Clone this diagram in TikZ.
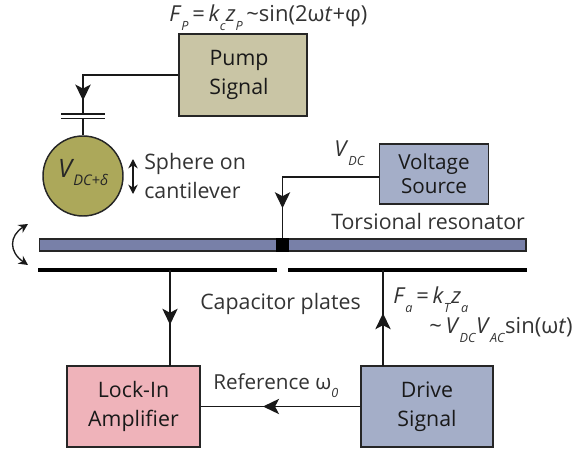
\documentclass[tikz,border=0pt]{standalone}
\usepackage{fontspec}
\setmainfont{Open Sans}
\usetikzlibrary{
    arrows.meta,
    decorations.markings,
    positioning
}
\definecolor{pumpfill}{HTML}{C9C5A5}
\definecolor{spherefill}{HTML}{ACA85A}
\definecolor{voltfill}{HTML}{A4AEC8}
\definecolor{barfill}{HTML}{7880A8}
\definecolor{lockfill}{HTML}{EFB3BA}
\definecolor{inkgray}{HTML}{333333}
\newcommand{\lowidx}[1]{\raisebox{-0.8ex}{\fontsize{9.5}{10}\selectfont\textit{#1}}}

\begin{document}
\begin{tikzpicture} [x=0.75pt,y=-0.75pt,
    block/.style={rectangle,draw=black!85,line width=1.1pt,inner sep=0pt,
                  font=\fontsize{16}{21.5}\selectfont,align=center,text=black!90},
    wire/.style={draw=black!90,line width=1pt},
    plate/.style={draw=black,line width=2.6pt},
    midtip/.style={postaction={decorate},decoration={markings,
                  mark=at position #1 with {\arrow{Stealth[length=12pt,width=11.5pt,inset=3pt]}}}},
    caption/.style={inner sep=0pt,font=\fontsize{16}{21.5}\selectfont,align=left,text=inkgray},
    formula/.style={inner sep=0pt,anchor=base west,font=\fontsize{16.5}{18}\selectfont,text=inkgray}
] 
    \useasboundingbox (0,0) rectangle (587,450);
    % blocks
    \node[block,fill=pumpfill,minimum width=96pt,minimum height=61.5pt]  (pump)  at (243,75)  {};
    \node[inner sep=0pt,align=center,font=\fontsize{16}{21.5}\selectfont,text=black!90] (pumplabel) at (239,75) {Pump\\Signal};
    \node[block,fill=voltfill,minimum width=82pt,minimum height=45pt,
          font=\fontsize{15.5}{18}\selectfont]                           (volt)  at (434,174) {Voltage\\Source};
    \node[block,fill=lockfill,minimum width=100pt,minimum height=61pt]   (lock)  at (133.5,406.5) {Lock-In\\Amplifier};
    \node[block,fill=voltfill,minimum width=99pt,minimum height=61pt]    (drive) at (427,406.5) {Drive\\Signal};
    \node[circle,draw=black!85,line width=1.1pt,fill=spherefill,inner sep=0pt,minimum size=60pt] (sphere) at (83,176) {};
    \node[inner sep=0pt,font=\fontsize{19}{21}\selectfont\itshape,text=black!85,anchor=base] (vsphere) at (65,177) {V};
    \node[inner sep=0pt,font=\fontsize{11}{12}\selectfont\itshape,text=black!85,anchor=base west] (dcsphere) at (73,185) {DC+δ};
    % resonator
    \node[rectangle,draw=black!85,line width=1pt,fill=barfill,inner sep=0pt,minimum width=365pt,minimum height=9pt] (bar) at (282.5,245) {};
    \node[rectangle,fill=black,inner sep=0pt,minimum width=10pt,minimum height=10pt] (hinge) at (282.5,245) {};
    \coordinate (plateAl) at (38,270);
    \coordinate (plateAr) at (277,270);
    \coordinate (plateBl) at (288,270);
    \coordinate (plateBr) at (527,270);
    \draw[plate] (plateAl) -- (plateAr);
    \draw[plate] (plateBl) -- (plateBr);
    % capacitor on the sphere
    \coordinate (capT) at (83,114);
    \coordinate (capB) at (83,118.5);
    \draw[wire] (61,114) -- (105,114);
    \draw[wire] (61,118.5) -- (105,118.5);
    % connectors
    \draw[wire,midtip=0.90] (pump.west |- 0,75) -| (capT);
    \draw[wire] (capB) -- (sphere.north);
    \draw[wire,midtip=0.81] (volt.west |- 0,177) -| (hinge.north);
    \draw[wire,midtip=0.57] (170,270) -- (170,366);
    \draw[wire,midtip=0.55] (383,366) -- (383,270);
    \draw[wire,midtip=0.61] (drive.west) -- (lock.east);
    % motion arrows
    \coordinate (swingT) at (28,224);
    \coordinate (swingB) at (28,265);
    \draw[wire,{Stealth[length=7pt,width=7pt]}-{Stealth[length=7pt,width=7pt]}] (swingT) .. controls (9,236) and (9,252) .. (swingB);
    \coordinate (moveT) at (133,159);
    \coordinate (moveB) at (133,194);
    \draw[wire,{Stealth[length=7pt,width=7pt]}-{Stealth[length=7pt,width=7pt]}] (moveT) -- (moveB);
    % labels
    \node[caption,anchor=west] (sphlabel) at (144,176) {Sphere on\\cantilever};
    \node[caption,anchor=base west] (torlabel) at (331,229) {Torsional resonator};
    \node[caption,anchor=base west] (caplabel) at (200,309) {Capacitor plates};
    \node[caption,anchor=base west,font=\fontsize{15.5}{19}\selectfont] (reflabel) at (213,389) {Reference ω\lowidx{0}};
    \node[formula] (fpump) at (169,21) {\textit{F}\lowidx{P}\,=\,\textit{k}\lowidx{c}\textit{z}\lowidx{P}\,\textasciitilde sin(2ω\textit{t}+φ)};
    \node[formula] (vdc) at (334,156) {\textit{V}\lowidx{DC}};
    \node[formula] (fdrive) at (393,303) {\textit{F}\lowidx{a}\,=\,\textit{k}\lowidx{T}\textit{z}\lowidx{a}};
    \node[formula] (fdrivetwo) at (429,333) {\textasciitilde\,\textit{V}\lowidx{DC}\textit{V}\lowidx{AC}sin(ω\textit{t})};
\end{tikzpicture}
\end{document}
